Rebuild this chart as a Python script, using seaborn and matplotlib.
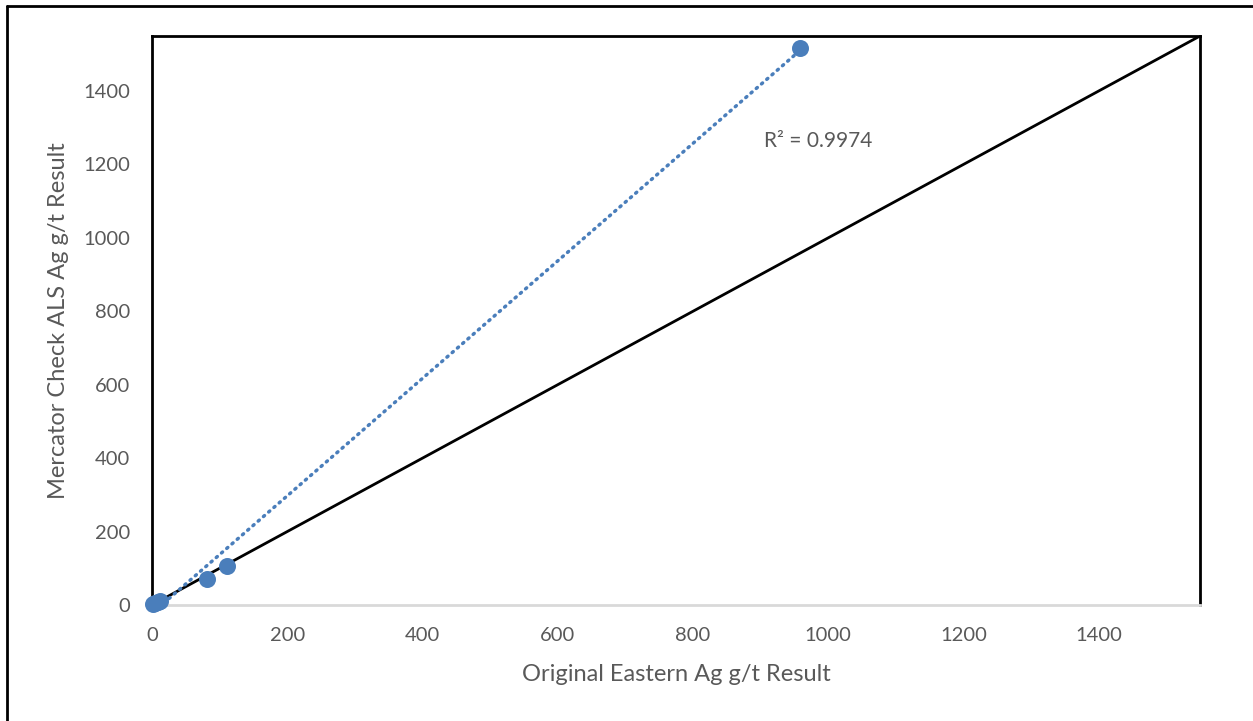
import matplotlib.pyplot as plt
import matplotlib.lines as mlines
import seaborn as sns
import numpy as np
import pandas as pd

# values
original_ag = [2, 5, 9, 12, 81, 111, 958]
check_ag = [3, 5, 9, 12, 72, 107, 1518]
axis_max = 1550
ticks = [0, 200, 400, 600, 800, 1000, 1200, 1400]
r2_label = "R² = 0.9974"

blue = "#4A7EBB"
grey = "#595959"

sns.set_theme(style="white")
plt.rcParams['font.family'] = ['Lato', 'DejaVu Sans']

df = pd.DataFrame({'original': original_ag, 'check': check_ag})

fig = plt.figure(figsize=(12.53, 7.21), dpi=100)
ax = fig.add_axes([152 / 1253, 1 - 605 / 721, (1200 - 152) / 1253, (605 - 36) / 721])

# 1:1 line
ax.plot([0, axis_max], [0, axis_max], color='black', linewidth=2.0, zorder=2)

# linear trendline through the data
slope, intercept = np.polyfit(df['original'], df['check'], 1)
trend_x = np.array([df['original'].min(), df['original'].max()])
trend = pd.DataFrame({'x': trend_x, 'y': slope * trend_x + intercept})
sns.lineplot(data=trend, x='x', y='y', ax=ax, color=blue, linewidth=2.5,
             linestyle=(0, (0.4, 1.6)), dash_capstyle='round', zorder=3)

sns.scatterplot(data=df, x='original', y='check', ax=ax, color=blue, s=150,
                edgecolor=blue, linewidth=0, zorder=4, clip_on=False)

ax.text(905, 1264, r2_label, fontsize=15, color=grey, ha='left', va='center')

ax.set_xlim(0, axis_max)
ax.set_ylim(0, axis_max)
ax.set_xticks(ticks)
ax.set_yticks(ticks)
ax.tick_params(axis='both', length=0, labelsize=14.5, labelcolor=grey, pad=16)

ax.set_xlabel('Original Eastern Ag g/t Result', fontsize=17, color=grey, labelpad=14)
ax.set_ylabel('Mercator Check ALS Ag g/t Result', fontsize=17, color=grey, labelpad=10)

for side in ['left', 'top', 'right']:
    ax.spines[side].set_color('black')
    ax.spines[side].set_linewidth(2.0)
ax.spines['bottom'].set_color('#D9D9D9')
ax.spines['bottom'].set_linewidth(2.0)

# outer frame (only left and top visible in the reference)
fig.add_artist(mlines.Line2D([7 / 1253, 7 / 1253], [0, 1 - 6 / 721], color='black', linewidth=2.0))
fig.add_artist(mlines.Line2D([7 / 1253, 1], [1 - 6 / 721, 1 - 6 / 721], color='black', linewidth=2.0))

fig.savefig('out.png', dpi=100)
plt.close(fig)
